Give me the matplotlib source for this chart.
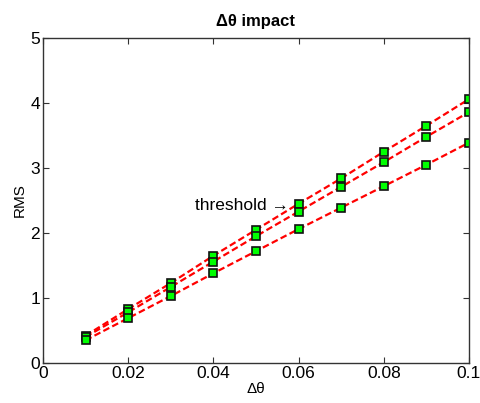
import matplotlib
matplotlib.use("Agg")
import matplotlib.pyplot as plt

x_vals = [0.01, 0.02, 0.03, 0.04, 0.05, 0.06, 0.07, 0.08, 0.09, 0.10]
series_a = [0.42, 0.83, 1.23, 1.65, 2.05, 2.45, 2.84, 3.25, 3.65, 4.06]
series_b = [0.40, 0.78, 1.17, 1.56, 1.95, 2.33, 2.71, 3.09, 3.48, 3.86]
series_c = [0.35, 0.69, 1.03, 1.38, 1.72, 2.06, 2.39, 2.72, 3.05, 3.39]
x_ticks = [0, 0.02, 0.04, 0.06, 0.08, 0.1]
x_tick_labels = ["0", "0.02", "0.04", "0.06", "0.08", "0.1"]
y_ticks = [0, 1, 2, 3, 4, 5]

plt.rcParams['font.family'] = ['Liberation Sans', 'DejaVu Sans']

fig = plt.figure(figsize=(4.8, 4.03), dpi=100)
ax = fig.add_axes([0.0896, 0.0993, 0.8874, 0.8064])

for s in (series_a, series_b, series_c):
    ax.plot(x_vals, s, linestyle=(0, (3, 1.5)), color='#ff0000', linewidth=1.6,
            marker='s', markersize=5.6, markerfacecolor='#00ff00',
            markeredgecolor='#111111', markeredgewidth=1.2)

ax.set_xlim(0, 0.1)
ax.set_ylim(0, 5)
ax.set_xticks(x_ticks)
ax.set_xticklabels(x_tick_labels)
ax.set_yticks(y_ticks)
ax.tick_params(direction='in', top=True, right=True, length=4, labelsize=12.5,
               color='#333333', pad=2)
for sp in ax.spines.values():
    sp.set_color('#333333')
    sp.set_linewidth(1.0)

ax.set_title("Δθ impact", fontsize=12, fontweight='bold', pad=9)
ax.set_xlabel("Δθ", fontsize=11, labelpad=1)
ax.set_ylabel("RMS", fontsize=11, labelpad=3)

ax.text(0.0578, 2.43, "threshold →", ha='right', va='center', fontsize=12.5)

fig.savefig("out.png", dpi=100)
